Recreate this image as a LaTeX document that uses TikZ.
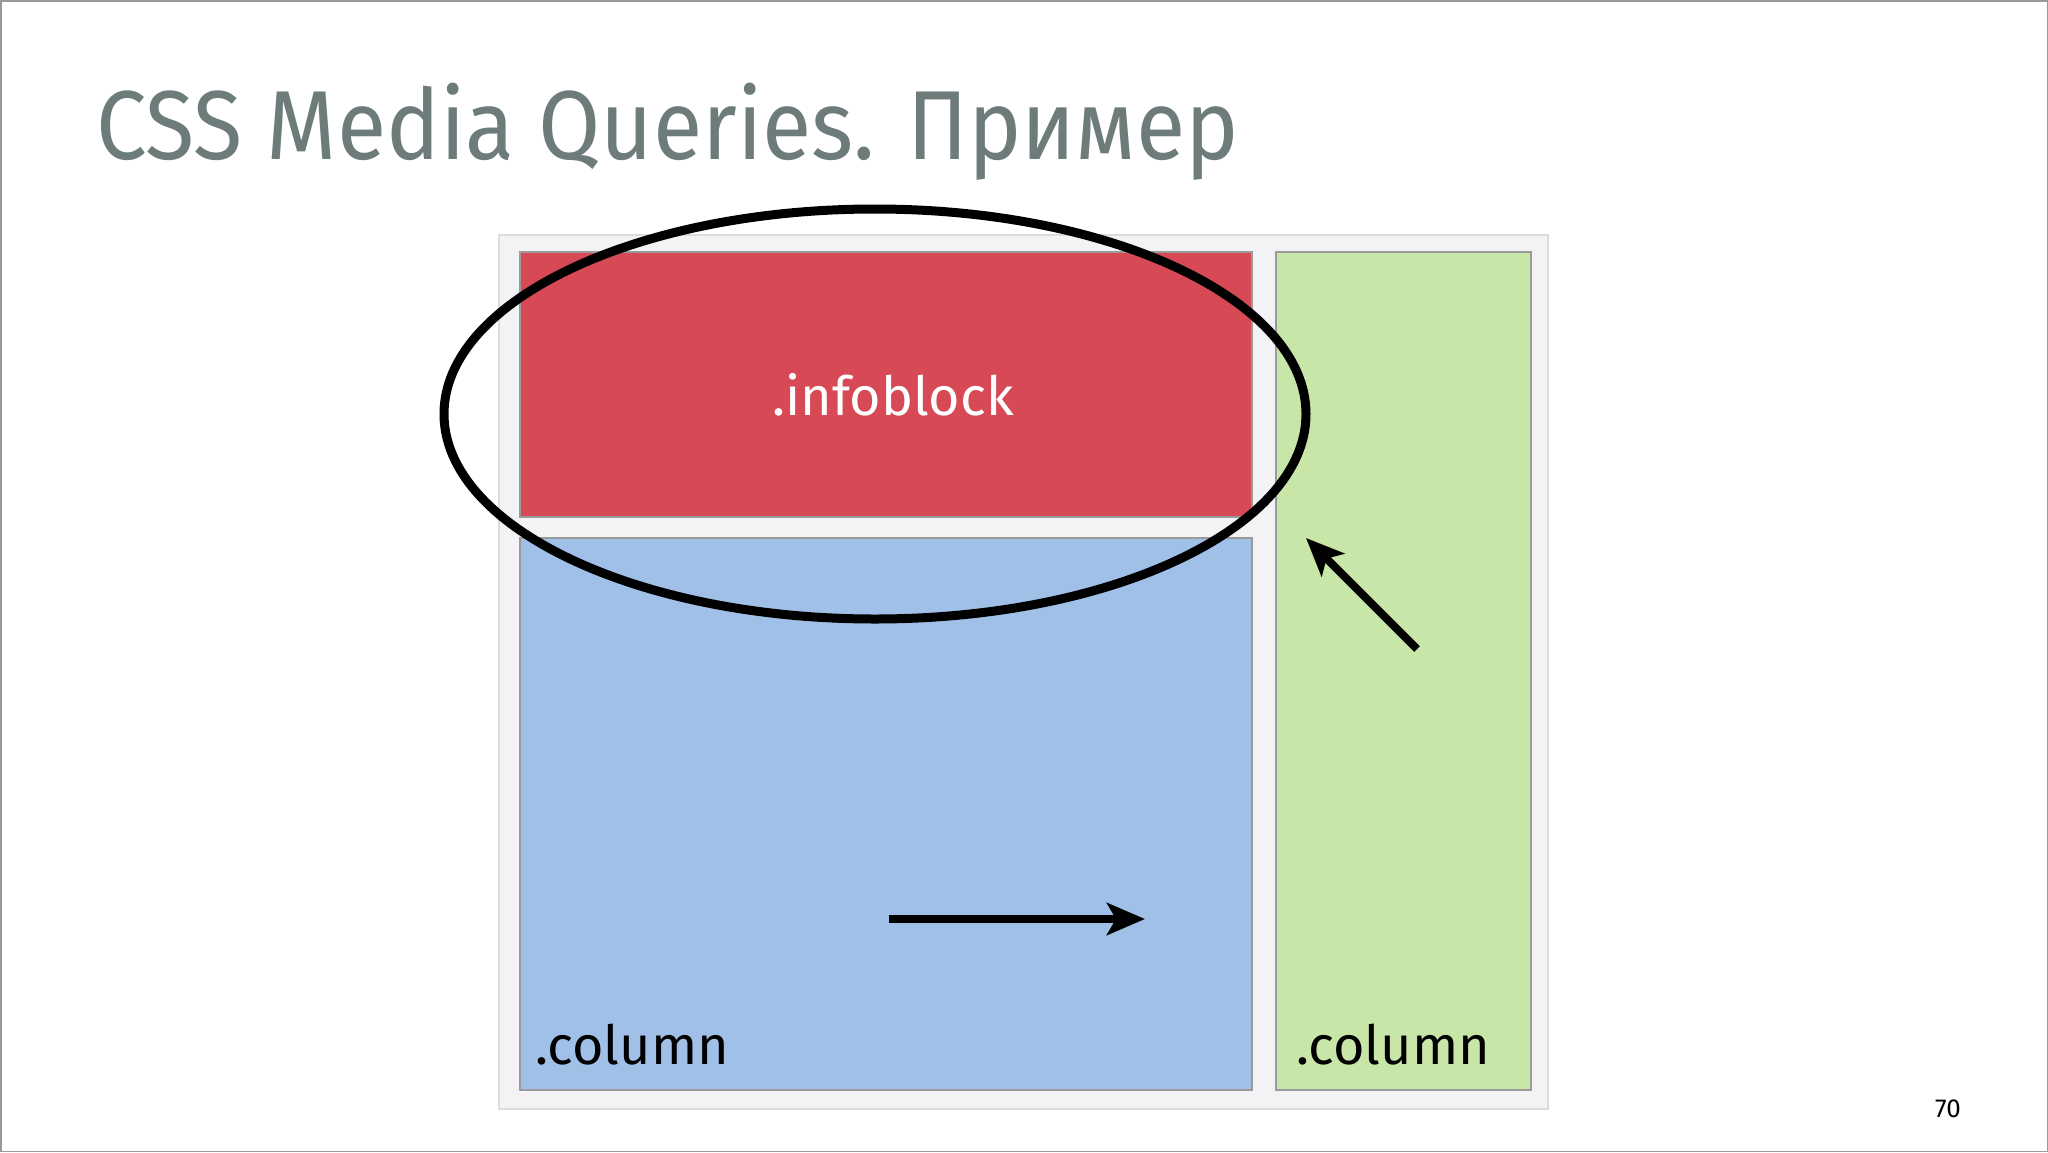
\documentclass[tikz,border=0pt]{standalone}
\usepackage{fontspec}
\setmainfont{Fira Sans}
\newfontfamily\titlefont{Fira Sans}[FakeStretch=0.92]
\usetikzlibrary{arrows.meta}
\definecolor{titlegray}{HTML}{6D7B7B}
\definecolor{redbox}{HTML}{D64955}
\definecolor{bluebox}{HTML}{A0C0E8}
\definecolor{greenbox}{HTML}{C8E6A8}
\definecolor{contfill}{HTML}{F3F2F4}
\definecolor{contline}{HTML}{DCDCDC}
\definecolor{boxline}{HTML}{9A9A9A}
\begin{document}
\begin{tikzpicture}[x=1pt,y=-1pt,
  cont/.style={fill=contfill,draw=contline,line width=2pt},
  block/.style={draw=boxline,line width=2pt},
  bigarrow/.style={line width=8pt,-{Stealth[length=38pt,width=32pt,inset=9pt]}},
  lbl/.style={inner sep=0pt,font=\fontsize{54}{60}\selectfont}]
\useasboundingbox (0,0) rectangle (2048,1152);
\fill[white] (0,0) rectangle (2048,1152);
\draw[boxline,line width=1.5pt] (0.75,0.75) rectangle (2047.25,1151.25);
% title
\node[anchor=base west,inner sep=0pt,text=titlegray,font=\titlefont\fontsize{98}{110}\selectfont] (title) at (96,159) {CSS Media Queries. Пример};
% container
\path[cont] (499,235) rectangle (1548,1109);
% blocks
\draw[block,fill=redbox] (520,252) rectangle (1252,517);
\draw[block,fill=bluebox] (520,538) rectangle (1252,1090);
\draw[block,fill=greenbox] (1276,252) rectangle (1531,1090);
% labels
\node[lbl,anchor=base,text=white] (info) at (893,415) {.infoblock};
\node[lbl,anchor=base west] (col1) at (535,1064) {.column};
\node[lbl,anchor=base west] (col2) at (1296,1064) {.column};
\node[anchor=base,inner sep=0pt,font=\fontsize{26}{30}\selectfont] (page) at (1948,1117) {70};
% ellipse
\draw[line width=9pt] (875,414) ellipse [x radius=431, y radius=205];
% arrows
\coordinate (a1s) at (889,919);
\coordinate (a1e) at (1145,919);
\coordinate (a2s) at (1417,649);
\coordinate (a2e) at (1306,538);
\draw[bigarrow] (a1s) -- (a1e);
\draw[bigarrow] (a2s) -- (a2e);
\end{tikzpicture}
\end{document}
